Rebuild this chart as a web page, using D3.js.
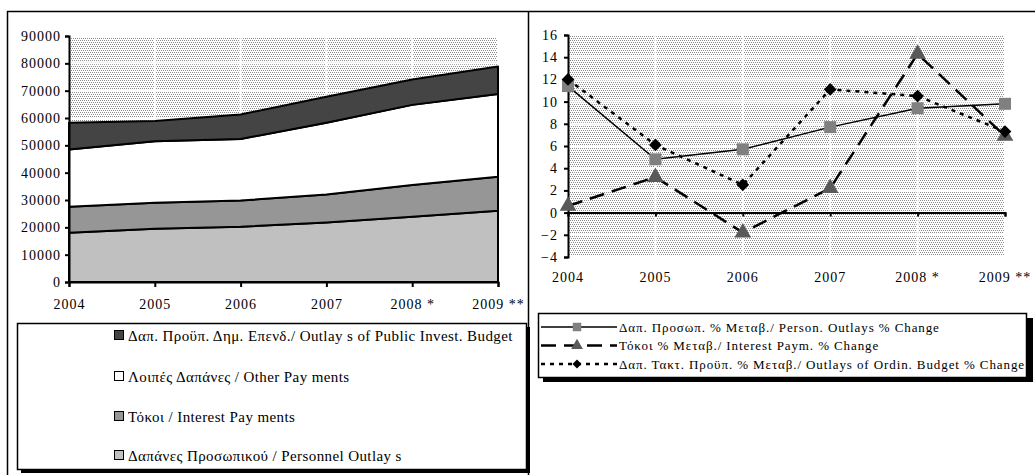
<!DOCTYPE html>
<html><head><meta charset="utf-8">
<script src="https://cdn.jsdelivr.net/npm/d3@7"></script>
<style>
body{margin:0;background:#fff;}
svg, svg text{font-family:'Liberation Serif','DejaVu Serif',serif;fill:#000;}
</style></head>
<body><svg id="c" width="1035" height="475" font-family="Liberation Serif, DejaVu Serif, serif"></svg>
<script>
const years = ["2004","2005","2006","2007","2008 *","2009 **"];
// left chart: stacked areas (values per series)
const personnel = [18000, 19500, 20200, 21800, 23900, 26100];
const interest  = [9500, 9500, 9600, 10200, 11600, 12400];
const otherPay  = [21000, 22500, 22500, 26300, 29300, 30300];
const publicInv = [9800, 7400, 9000, 9500, 9300, 10000];
const leftTicks = [0,10000,20000,30000,40000,50000,60000,70000,80000,90000];
const leftLegend = ["Δαπ. Προϋπ. Δημ. Επενδ./ Outlay s of Public Invest. Budget",
                    "Λοιπές Δαπάνες / Other Pay ments",
                    "Τόκοι / Interest Pay ments",
                    "Δαπάνες Προσωπικού / Personnel Outlay s"];
// right chart: % change lines
const personChg = [11.4, 4.8, 5.7, 7.7, 9.4, 9.8];
const interestChg = [0.6, 3.2, -1.8, 2.2, 14.3, 6.9];
const ordinChg = [12.0, 6.1, 2.5, 11.1, 10.5, 7.3];
const rightTicks = [-4,-2,0,2,4,6,8,10,12,14,16];
const rightLegend = ["Δαπ. Προσωπ. % Μεταβ./ Person. Outlays % Change",
                     "Τόκοι % Μεταβ./ Interest Paym. % Change",
                     "Δαπ. Τακτ. Προϋπ. % Μεταβ./ Outlays of Ordin. Budget % Change"];

const FONT = "'Liberation Serif','DejaVu Serif',serif";
const svg = d3.select("#c");
const defs = svg.append("defs");
const pat = defs.append("pattern").attr("id","dots").attr("patternUnits","userSpaceOnUse")
  .attr("width",4).attr("height",4);
pat.append("rect").attr("width",4).attr("height",4).attr("fill","#fff");
[[0,0],[2,0],[1,2],[3,2]].forEach(([x,y])=>pat.append("rect").attr("x",x).attr("y",y).attr("width",1).attr("height",1).attr("fill","#8c8c8c"));

function txt(sel){ return sel.style("font-family",FONT).attr("font-family",FONT); }

// frame
svg.append("line").attr("x1",7).attr("x2",1035).attr("y1",11.5).attr("y2",11.5).attr("stroke","#000").attr("stroke-width",1.5);
svg.append("line").attr("x1",7.5).attr("x2",7.5).attr("y1",11).attr("y2",475).attr("stroke","#000").attr("stroke-width",1.5);
svg.append("line").attr("x1",528.5).attr("x2",528.5).attr("y1",11).attr("y2",475).attr("stroke","#000").attr("stroke-width",1.5);

// ---------- LEFT CHART ----------
const xL = d3.scalePoint().domain(years).range([69, 498]);
const yL = d3.scaleLinear().domain([0, 90000]).range([282, 36]);
const gL = svg.append("g");
gL.append("rect").attr("x",69).attr("y",36).attr("width",429).attr("height",246).attr("fill","url(#dots)");
leftTicks.forEach(t=>gL.append("line").attr("x1",69).attr("x2",498).attr("y1",yL(t)).attr("y2",yL(t)).attr("stroke","#fff").attr("stroke-width",2));
years.forEach(c=>gL.append("line").attr("x1",xL(c)).attr("x2",xL(c)).attr("y1",36).attr("y2",282).attr("stroke","#fff").attr("stroke-width",2));

const stackData = years.map((y,i)=>({year:y, p:personnel[i], i_:interest[i], o:otherPay[i], v:publicInv[i]}));
const stack = d3.stack().keys(["p","i_","o","v"]);
const layers = stack(stackData);
const fills = {p:"#c0c0c0", i_:"#969696", o:"#ffffff", v:"#444444"};
const area = d3.area().x(d=>xL(d.data.year)).y0(d=>yL(d[0])).y1(d=>yL(d[1]));
layers.forEach(l=>{
  gL.append("path").datum(l).attr("d",area).attr("fill",fills[l.key]).attr("stroke","#000").attr("stroke-width",2).attr("stroke-linejoin","round");
});
const axL = gL.append("g").attr("transform","translate(69,0)").call(d3.axisLeft(yL).tickValues(leftTicks).tickFormat(d3.format("d")).tickSize(4).tickPadding(4));
const axB = gL.append("g").attr("transform","translate(0,282)").call(d3.axisBottom(xL).tickSize(5).tickPadding(9));
[axL,axB].forEach(a=>{a.attr("font-family",FONT);a.select(".domain").attr("stroke","#000").attr("stroke-width",2);a.selectAll(".tick line").attr("stroke","#000").attr("stroke-width",2);
  txt(a.selectAll("text")).style("font-size","14px").style("letter-spacing","1px").attr("fill","#000");});
axB.selectAll("text").attr("dy","0.9em");

// left legend
svg.append("rect").attr("x",21).attr("y",327).attr("width",509).attr("height",146).attr("fill","#000");
svg.append("rect").attr("x",17.5).attr("y",323.5).attr("width",509).attr("height",146).attr("fill","#fff").attr("stroke","#000").attr("stroke-width",1.5);
const legFills = ["#444444","#ffffff","#969696","#c0c0c0"];
const legY = [336, 377, 417, 456];
leftLegend.forEach((t,i)=>{
  svg.append("rect").attr("x",114.5).attr("y",legY[i]-5.5).attr("width",9).attr("height",9).attr("fill",legFills[i]).attr("stroke","#000").attr("stroke-width",1);
  txt(svg.append("text").attr("x",128).attr("y",legY[i]).attr("dy","0.35em")).style("font-size","15px").style("letter-spacing","0.4px").text(t);
});

// ---------- RIGHT CHART ----------
const xR = d3.scalePoint().domain(years).range([568, 1005]);
const yR = d3.scaleLinear().domain([-4, 16]).range([257, 35]);
const gR = svg.append("g");
gR.append("rect").attr("x",568).attr("y",35).attr("width",437).attr("height",222).attr("fill","url(#dots)");
rightTicks.forEach(t=>gR.append("line").attr("x1",568).attr("x2",1005).attr("y1",yR(t)).attr("y2",yR(t)).attr("stroke","#fff").attr("stroke-width",2));
years.forEach(c=>gR.append("line").attr("x1",xR(c)).attr("x2",xR(c)).attr("y1",35).attr("y2",257).attr("stroke","#fff").attr("stroke-width",2));

const axR = gR.append("g").attr("transform","translate(568,0)").call(d3.axisLeft(yR).tickValues(rightTicks).tickFormat(d3.format("d")).tickSize(4).tickPadding(6));
const axR0 = gR.append("g").attr("transform",`translate(0,${yR(0)})`).call(d3.axisBottom(xR).tickSize(4).tickFormat(""));
[axR,axR0].forEach(a=>{a.attr("font-family",FONT);a.select(".domain").attr("stroke","#000").attr("stroke-width",2);a.selectAll(".tick line").attr("stroke","#000").attr("stroke-width",2);
  txt(a.selectAll("text")).style("font-size","14px").style("letter-spacing","1px").attr("fill","#000");});
years.forEach(c=>txt(gR.append("text").attr("x",xR(c)).attr("y",277).attr("dy","0.35em").attr("text-anchor","middle")).style("font-size","14px").style("letter-spacing","1px").text(c));

const lineR = d3.line().x((d,i)=>xR(years[i])).y(d=>yR(d));
const series = [
  {data:personChg, dash:null, w:1.5, sym:d3.symbolSquare, size:144, rot:0, fill:"#808080"},
  {data:interestChg, dash:"15,8", w:2.5, sym:d3.symbolTriangle, size:120, rot:0, fill:"#595959"},
  {data:ordinChg, dash:"4,5", w:2.5, sym:d3.symbolSquare, size:81, rot:45, fill:"#000"}
];
series.forEach(s=>{
  gR.append("path").datum(s.data).attr("d",lineR).attr("fill","none").attr("stroke","#000").attr("stroke-width",s.w).attr("stroke-dasharray",s.dash);
});
series.forEach(s=>{
  s.data.forEach((v,i)=>gR.append("path").attr("d",d3.symbol().type(s.sym).size(s.size)()).attr("transform",`translate(${xR(years[i])},${yR(v)}) rotate(${s.rot})`).attr("fill",s.fill));
});

// right legend
svg.append("rect").attr("x",543).attr("y",318).attr("width",490).attr("height",64).attr("fill","#000");
svg.append("rect").attr("x",538.5).attr("y",313.5).attr("width",488).attr("height",64).attr("fill","#fff").attr("stroke","#000").attr("stroke-width",1.5);
const rLegY = [327, 345.5, 364];
series.forEach((s,i)=>{
  svg.append("line").attr("x1",541).attr("x2",617).attr("y1",rLegY[i]).attr("y2",rLegY[i]).attr("stroke","#000").attr("stroke-width",s.w).attr("stroke-dasharray",s.dash);
  svg.append("path").attr("d",d3.symbol().type(s.sym).size(s.size*0.5)()).attr("transform",`translate(577,${rLegY[i]}) rotate(${s.rot})`).attr("fill",s.fill);
  txt(svg.append("text").attr("x",619).attr("y",rLegY[i]).attr("dy","0.35em")).style("font-size","13px").style("letter-spacing","0.9px").text(rightLegend[i]);
});
</script></body></html>
